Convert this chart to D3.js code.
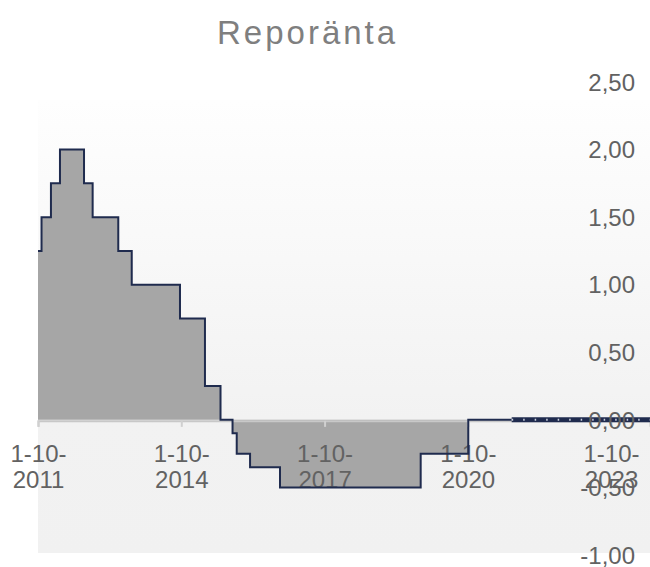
<!DOCTYPE html>
<html>
<head>
<meta charset="UTF-8">
<title>Reporänta</title>
<script src="https://cdn.jsdelivr.net/npm/d3@7"></script>
<style>
body { margin: 0; background: #fff; }
svg text { font-family: "Liberation Sans", Arial, sans-serif; }
</style>
</head>
<body>
<script>
// data: dates where the rate changes, and the new rate
var changeDates = ["2011-10-01", "2011-10-28", "2012-01-08", "2012-03-17", "2012-09-17",
  "2012-11-22", "2013-06-06", "2013-09-17", "2014-09-21", "2015-03-31", "2015-07-28",
  "2015-10-28", "2015-11-29", "2016-03-10", "2016-10-25", "2019-10-06", "2020-10-04",
  "2021-09-01"];
var rates = [1.25, 1.50, 1.75, 2.00, 1.75, 1.50, 1.25, 1.00, 0.75, 0.25, 0.00,
  -0.10, -0.25, -0.35, -0.50, -0.25, 0.00, 0.00];
// prognos (prickad)
var forecastDates = ["2021-09-01", "2024-07-25"];
var forecastRates = [0.00, 0.00];
// axlar
var xTickDates = ["2011-10-01", "2014-10-01", "2017-10-01", "2020-10-01", "2023-10-01"];
var xTickLabels = ["1-10-2011", "1-10-2014", "1-10-2017", "1-10-2020", "1-10-2023"];
var yTicks = [-1, -0.5, 0, 0.5, 1, 1.5, 2, 2.5];

var parse = d3.timeParse("%Y-%m-%d");
var series = changeDates.map(function(d, i) { return {date: parse(d), val: rates[i]}; });
var forecast = forecastDates.map(function(d, i) { return {date: parse(d), val: forecastRates[i]}; });

var width = 650, height = 567;
var svg = d3.select("body").append("svg")
  .attr("width", width)
  .attr("height", height);

var xScale = d3.scaleTime()
  .domain([parse("2011-10-01"), parse("2024-07-25")])
  .range([38, 650]);
var yScale = d3.scaleLinear()
  .domain([-1, 2.5])
  .range([555, 82]);

// bakgrund
var grad = svg.append("defs").append("linearGradient")
  .attr("id", "bg").attr("x1", 0).attr("y1", 0).attr("x2", 0).attr("y2", 1);
grad.append("stop").attr("offset", "0%").attr("stop-color", "#fefefe");
grad.append("stop").attr("offset", "70%").attr("stop-color", "#f2f2f2");
grad.append("stop").attr("offset", "100%").attr("stop-color", "#f1f1f1");
svg.append("rect")
  .attr("x", 38).attr("y", 100)
  .attr("width", 612).attr("height", 453)
  .attr("fill", "url(#bg)");

// rubrik
svg.append("text")
  .attr("x", 217).attr("y", 44)
  .attr("font-size", 33)
  .attr("letter-spacing", 3)
  .attr("fill", "#7f7f7f")
  .text("Reporänta");

// yta
var area = d3.area()
  .curve(d3.curveStepAfter)
  .x(function(d) { return xScale(d.date); })
  .y0(yScale(0))
  .y1(function(d) { return yScale(d.val); });
svg.append("path")
  .datum(series)
  .attr("d", area)
  .attr("fill", "#a6a6a6");

// x-axel
var xAxis = svg.append("g")
  .attr("transform", "translate(0," + (yScale(0) + 1) + ")")
  .call(d3.axisBottom(xScale)
    .tickValues(xTickDates.map(parse))
    .tickSize(6)
    .tickFormat(""));
xAxis.select(".domain").attr("stroke", "#c8c8c8").attr("stroke-width", 2);
xAxis.selectAll(".tick line").attr("stroke", "#d0d0d0").attr("stroke-width", 2);

// linje
var line = d3.line()
  .curve(d3.curveStepAfter)
  .x(function(d) { return xScale(d.date); })
  .y(function(d) { return yScale(d.val); });
svg.append("path")
  .datum(series)
  .attr("d", line)
  .attr("fill", "none")
  .attr("stroke", "#1f2b4e")
  .attr("stroke-width", 2);

// prognos
svg.append("path")
  .datum(forecast)
  .attr("d", line)
  .attr("fill", "none")
  .attr("stroke", "#1f2b4e")
  .attr("stroke-width", 5);
svg.append("path")
  .datum(forecast)
  .attr("d", line)
  .attr("fill", "none")
  .attr("stroke", "#c9cfdc")
  .attr("stroke-width", 2)
  .attr("stroke-dasharray", "1.5,10");

// x-etiketter
xAxis.selectAll(".tick").each(function(d, i) {
  var parts = xTickLabels[i].split("-");
  var t = d3.select(this).append("text")
    .attr("text-anchor", "middle")
    .attr("font-size", 24)
    .attr("fill", "#626262");
  t.append("tspan").attr("x", 0).attr("y", 41).text(parts[0] + "-" + parts[1] + "-");
  t.append("tspan").attr("x", 0).attr("y", 67).text(parts[2]);
});

// y-axel till höger
var fmt = d3.formatLocale({decimal: ",", thousands: " ", grouping: [3], currency: ["", " kr"], minus: "-"}).format(".2f");
var yAxis = svg.append("g")
  .attr("transform", "translate(635,0)")
  .call(d3.axisLeft(yScale)
    .tickValues(yTicks)
    .tickSize(0)
    .tickPadding(0)
    .tickFormat(fmt));
yAxis.select(".domain").remove();
yAxis.selectAll("text")
  .attr("font-size", 24)
  .attr("font-family", "Liberation Sans, Arial, sans-serif")
  .attr("fill", "#626262")
  .attr("dy", "0.34em");
</script>
</body>
</html>
